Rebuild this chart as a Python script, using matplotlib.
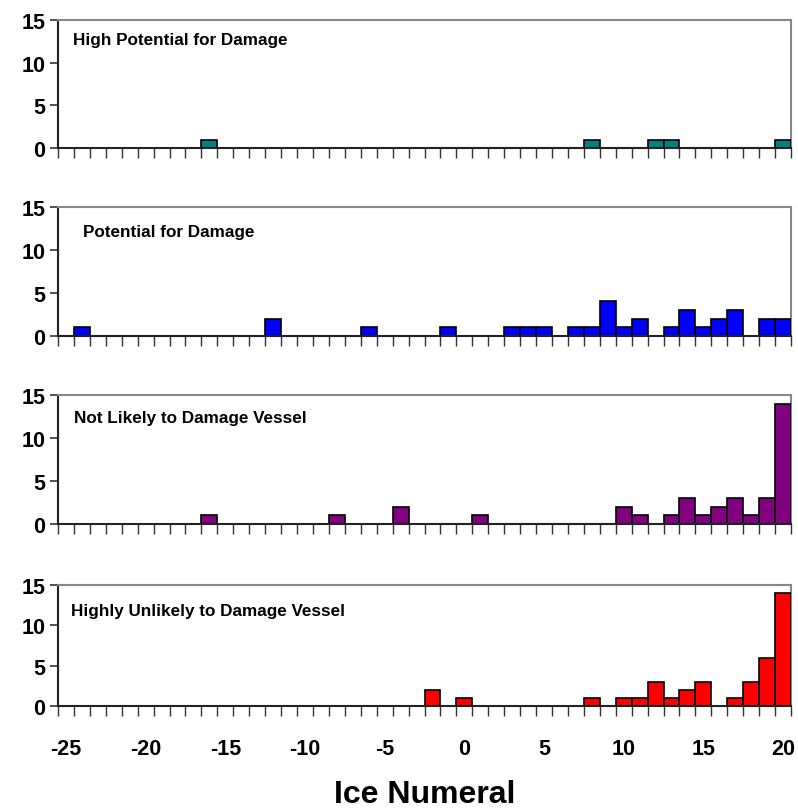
import matplotlib
matplotlib.use("Agg")
import matplotlib.pyplot as plt
from matplotlib.ticker import FixedLocator, NullFormatter

# ---- data ----
panel_titles = ["High Potential for Damage", "Potential for Damage",
                "Not Likely to Damage Vessel", "Highly Unlikely to Damage Vessel"]
panel_colors = ["#008080", "#0000FF", "#800080", "#FF0000"]

high_numerals = [-16, 8, 12, 13, 20]
high_counts = [1, 1, 1, 1, 1]

pot_numerals = [-24, -12, -6, -1, 3, 4, 5, 7, 8, 9, 10, 11, 13, 14, 15, 16, 17, 19, 20]
pot_counts = [1, 2, 1, 1, 1, 1, 1, 1, 1, 4, 1, 2, 1, 3, 1, 2, 3, 2, 2]

notlikely_numerals = [-16, -8, -4, 1, 10, 11, 13, 14, 15, 16, 17, 18, 19, 20]
notlikely_counts = [1, 1, 2, 1, 2, 1, 1, 3, 1, 2, 3, 1, 3, 14]

unlikely_numerals = [-2, 0, 8, 10, 11, 12, 13, 14, 15, 17, 18, 19, 20]
unlikely_counts = [2, 1, 1, 1, 1, 3, 1, 2, 3, 1, 3, 6, 14]

x_ticks = [-25, -20, -15, -10, -5, 0, 5, 10, 15, 20]
y_ticks = [0, 5, 10, 15]
x_label = "Ice Numeral"

series = [(high_numerals, high_counts), (pot_numerals, pot_counts),
          (notlikely_numerals, notlikely_counts), (unlikely_numerals, unlikely_counts)]

# ---- layout (pixels) ----
W, H = 798, 812
fig = plt.figure(figsize=(W / 100, H / 100), dpi=100)
plt.rcParams['font.family'] = ['Liberation Sans', 'DejaVu Sans']

left_px, right_px = 58, 791
panels_px = [(20.7, 149.3), (208.3, 336.7), (396, 525), (586, 707.3)]
title_px = [(73, 40), (83, 233), (74, 419), (71, 612)]

for i, ((top, bot), (xs, ys), color, title) in enumerate(zip(panels_px, series, panel_colors, panel_titles)):
    ax = fig.add_axes([left_px / W, 1 - bot / H, (right_px - left_px) / W, (bot - top) / H])
    ax.bar(xs, ys, width=1.0, color=color, edgecolor="black", linewidth=1.2, zorder=3)
    ax.set_xlim(-25.5, 20.5)
    ax.set_ylim(0, 15)
    ax.set_yticks(y_ticks)
    ax.set_yticklabels([str(v) for v in y_ticks], fontsize=15.5, fontweight="bold")
    ax.tick_params(axis="y", direction="out", length=6, width=1.2, pad=3, color="#333333")
    # category boundary ticks
    ax.xaxis.set_minor_locator(FixedLocator([v + 0.5 for v in range(-26, 21)]))
    ax.xaxis.set_minor_formatter(NullFormatter())
    ax.tick_params(axis="x", which="minor", direction="out", length=7, width=1.0, color="#333333")
    ax.set_xticks(x_ticks)
    if i == 3:
        ax.set_xticklabels([str(v) for v in x_ticks], fontsize=15.5, fontweight="bold")
        ax.tick_params(axis="x", which="major", length=0, pad=23)
    else:
        ax.set_xticklabels([])
        ax.tick_params(axis="x", which="major", length=0)
    for s in ["left", "bottom"]:
        ax.spines[s].set_color("#222222")
        ax.spines[s].set_linewidth(1.5)
    for s in ["top", "right"]:
        ax.spines[s].set_color("#888888")
        ax.spines[s].set_linewidth(1.5)
    ax.spines["bottom"].set_zorder(4)
    tx, ty = title_px[i]
    fig.text(tx / W, 1 - ty / H, title, fontsize=12.3, fontweight="bold", va="center", ha="left")

fig.text(424.5 / W, 1 - 795 / H, x_label, fontsize=23, fontweight="bold", ha="center", va="center")

fig.savefig("out.png", dpi=100)
